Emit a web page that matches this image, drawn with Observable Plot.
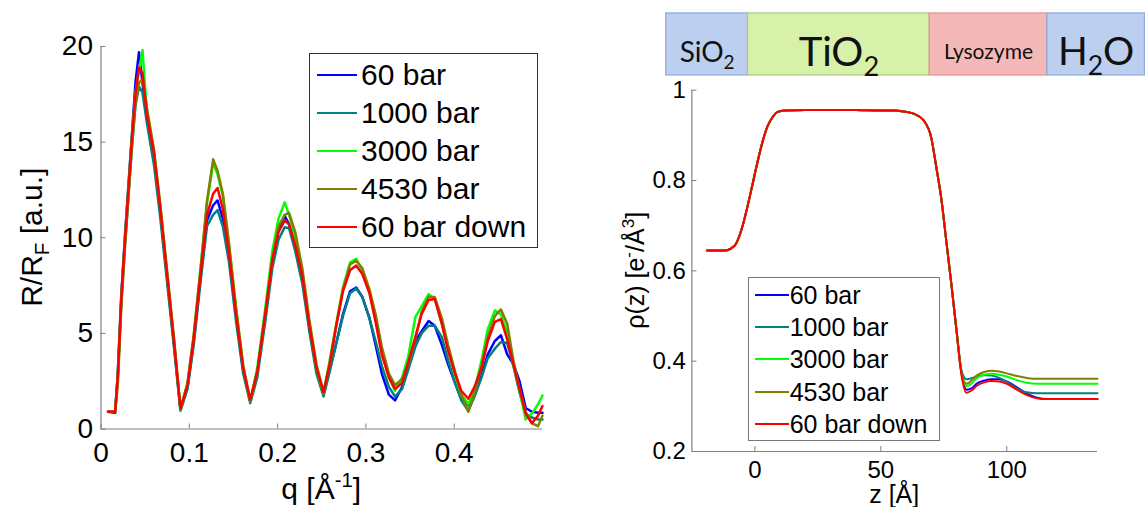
<!DOCTYPE html>
<html>
<head>
<meta charset="utf-8">
<script src="https://cdn.jsdelivr.net/npm/d3@7"></script>
<script src="https://cdn.jsdelivr.net/npm/@observablehq/plot@0.6"></script>
<style>
  body { margin: 0; background: #fff; }
  #fig { position: relative; width: 1145px; height: 507px; overflow: hidden; background: #fff;
         font-family: "Liberation Sans", Arial, sans-serif; color: #000; }
  #fig > svg { position: absolute; top: 0; }
  .legend { position: absolute; background: #fff; box-sizing: border-box; }
  .legend .row { position: absolute; left: 0; display: flex; align-items: center; white-space: nowrap; }
  .legend .sw { display: inline-block; height: 0; }
</style>
</head>
<body>
<div id="fig"></div>
<script>
// Pressure series shared by both panels
const seriesNames  = ["60 bar", "1000 bar", "3000 bar", "4530 bar", "60 bar down"];
const seriesColors = ["#0000ff", "#008080", "#00ff00", "#808000", "#ff0000"];

// Left panel: normalised reflectivity R/R_F versus q [1/Å]
const qValues = [0.008, 0.016, 0.019, 0.023, 0.027, 0.031, 0.035, 0.039, 0.043, 0.047,
  0.052, 0.060, 0.067, 0.075, 0.083, 0.090, 0.098, 0.105, 0.113, 0.120,
  0.127, 0.132, 0.138, 0.145, 0.153, 0.161, 0.169, 0.177, 0.186, 0.194,
  0.201, 0.208, 0.213, 0.220, 0.228, 0.236, 0.244, 0.252, 0.259, 0.266,
  0.274, 0.282, 0.289, 0.296, 0.304, 0.311, 0.318, 0.326, 0.333, 0.341,
  0.348, 0.356, 0.363, 0.371, 0.378, 0.386, 0.393, 0.401, 0.408, 0.416,
  0.423, 0.431, 0.438, 0.446, 0.453, 0.460, 0.467, 0.474, 0.481, 0.488,
  0.495, 0.500];
const refl60 = [0.9, 0.85, 2.9, 7.0, 10.0, 12.7, 15.4, 18.1, 19.7, 18.1,
  16.2, 14.2, 11.4, 7.9, 4.3, 1.0, 2.2, 4.6, 8.1, 10.9,
  11.7, 11.95, 11.0, 9.0, 5.9, 3.1, 1.45, 2.9, 5.9, 8.7,
  10.4, 11.15, 10.7, 9.5, 7.9, 5.3, 3.1, 1.85, 3.1, 4.4,
  6.0, 7.2, 7.4, 6.9, 5.8, 4.4, 2.9, 1.8, 1.5, 2.2,
  3.2, 4.6, 5.1, 5.65, 5.4, 4.4, 3.4, 2.4, 1.6, 1.25,
  1.8, 2.8, 3.9, 4.6, 4.9, 3.9, 3.4, 2.5, 1.1, 0.9,
  0.85, 0.85];
const refl1000 = [0.9, 0.9, 2.6, 6.6, 9.5, 12.1, 14.7, 16.9, 17.9, 17.6,
  16.0, 13.8, 11.1, 7.6, 4.1, 0.95, 2.1, 4.4, 7.8, 10.6,
  11.2, 11.45, 10.6, 8.7, 5.6, 2.9, 1.35, 2.7, 5.6, 8.4,
  9.9, 10.55, 10.5, 9.3, 7.6, 5.1, 2.9, 1.7, 3.0, 4.4,
  5.9, 7.1, 7.35, 6.9, 5.8, 4.6, 3.3, 2.2, 1.7, 2.1,
  3.1, 4.3, 5.0, 5.4, 5.4, 4.8, 3.6, 2.4, 1.5, 0.95,
  1.7, 2.7, 3.7, 4.2, 4.55, 4.5, 3.3, 1.9, 0.8, 0.6,
  0.5, 0.5];
const refl3000 = [0.9, 0.9, 2.8, 6.9, 9.9, 12.6, 15.3, 17.6, 18.7, 19.8,
  16.6, 14.5, 11.7, 8.1, 4.5, 1.0, 2.4, 4.9, 8.5, 11.8,
  13.9, 13.3, 12.2, 9.6, 6.3, 3.3, 1.45, 3.2, 6.3, 9.3,
  11.0, 11.85, 11.2, 10.0, 8.2, 5.5, 3.2, 1.85, 3.6, 5.4,
  7.4, 8.7, 8.9, 8.3, 7.2, 5.8, 4.1, 2.7, 2.0, 2.7,
  3.8, 5.85, 6.4, 7.05, 6.8, 5.5, 4.2, 2.8, 1.8, 1.3,
  2.0, 3.6, 5.2, 6.2, 6.0, 5.0, 3.4, 2.0, 0.5, 0.8,
  1.3, 1.75];
const refl4530 = [0.9, 0.9, 2.3, 6.4, 9.4, 12.1, 14.8, 17.0, 18.1, 18.3,
  16.8, 14.6, 11.8, 8.2, 4.6, 1.05, 2.4, 4.9, 8.5, 11.9,
  14.1, 13.5, 12.3, 9.7, 6.3, 3.3, 1.5, 3.0, 6.0, 8.9,
  10.6, 11.2, 11.3, 10.3, 8.4, 5.7, 3.4, 1.95, 3.4, 5.3,
  7.3, 8.6, 8.8, 8.4, 7.3, 6.0, 4.3, 2.9, 2.3, 2.6,
  3.4, 4.7, 6.1, 6.9, 6.9, 5.8, 4.4, 3.0, 1.8, 0.9,
  1.9, 3.3, 4.8, 5.9, 6.25, 5.5, 3.6, 2.1, 0.9, 0.3,
  0.15, 0.7];
const refl60down = [0.9, 0.9, 2.8, 6.9, 9.8, 12.5, 15.2, 17.5, 18.9, 18.6,
  16.4, 14.4, 11.6, 8.0, 4.4, 1.05, 2.3, 4.7, 8.2, 11.2,
  12.3, 12.6, 11.5, 9.2, 6.0, 3.2, 1.5, 3.0, 6.0, 8.8,
  10.3, 10.9, 10.7, 9.6, 8.0, 5.4, 3.2, 1.9, 3.4, 5.3,
  7.2, 8.3, 8.55, 8.1, 7.1, 5.6, 3.9, 2.7, 2.1, 2.4,
  3.5, 4.8, 6.0, 6.75, 6.8, 5.5, 4.1, 2.9, 2.0, 1.58,
  2.2, 3.2, 4.6, 5.6, 5.75, 4.7, 3.4, 2.1, 0.8, 0.3,
  0.7, 1.2];
const qTicks = [0, 0.1, 0.2, 0.3, 0.4];
const reflTicks = [0, 5, 10, 15, 20];

// Right panel: electron density profile rho(z) versus z [Å]
const zValues = [-19, -12, -8, -5, -3, -1, 1, 3, 5, 7,
  9, 12, 20, 30, 40, 50, 55, 59, 63, 67,
  70, 72, 74, 76, 78, 80, 82, 84, 86, 88,
  91, 94, 97, 100, 104, 108, 112, 116, 120, 128, 136];
const rho60 = [0.645, 0.645, 0.656, 0.697, 0.741, 0.79, 0.84, 0.885, 0.92, 0.94,
  0.952, 0.955, 0.956, 0.956, 0.956, 0.955, 0.955, 0.953, 0.948, 0.933,
  0.895, 0.83, 0.76, 0.665, 0.57, 0.47, 0.375, 0.337, 0.34, 0.35,
  0.357, 0.36, 0.36, 0.355, 0.342, 0.328, 0.319, 0.316, 0.316, 0.316, 0.316];
const rho1000 = [0.645, 0.645, 0.656, 0.697, 0.741, 0.79, 0.84, 0.885, 0.92, 0.94,
  0.952, 0.955, 0.956, 0.956, 0.956, 0.955, 0.955, 0.953, 0.948, 0.933,
  0.895, 0.83, 0.76, 0.665, 0.57, 0.47, 0.38, 0.36, 0.362, 0.366,
  0.369, 0.368, 0.363, 0.354, 0.34, 0.331, 0.329, 0.329, 0.329, 0.329, 0.329];
const rho3000 = [0.645, 0.645, 0.656, 0.697, 0.741, 0.79, 0.84, 0.885, 0.92, 0.94,
  0.952, 0.955, 0.956, 0.956, 0.956, 0.955, 0.955, 0.953, 0.948, 0.933,
  0.895, 0.83, 0.76, 0.665, 0.57, 0.47, 0.375, 0.345, 0.35, 0.362,
  0.37, 0.372, 0.37, 0.366, 0.358, 0.352, 0.35, 0.35, 0.35, 0.35, 0.35];
const rho4530 = [0.645, 0.645, 0.656, 0.697, 0.741, 0.79, 0.84, 0.885, 0.92, 0.94,
  0.952, 0.955, 0.956, 0.956, 0.956, 0.955, 0.955, 0.953, 0.948, 0.933,
  0.895, 0.83, 0.76, 0.665, 0.57, 0.47, 0.375, 0.35, 0.357, 0.368,
  0.376, 0.379, 0.377, 0.373, 0.367, 0.363, 0.361, 0.361, 0.361, 0.361, 0.361];
const rho60down = [0.645, 0.645, 0.656, 0.697, 0.741, 0.79, 0.84, 0.885, 0.92, 0.94,
  0.952, 0.955, 0.956, 0.956, 0.956, 0.955, 0.955, 0.953, 0.948, 0.933,
  0.895, 0.83, 0.76, 0.665, 0.57, 0.47, 0.37, 0.33, 0.335, 0.345,
  0.353, 0.356, 0.355, 0.35, 0.337, 0.325, 0.318, 0.316, 0.316, 0.316, 0.316];
const zTicks = [0, 50, 100];
const rhoTicks = [0.2, 0.4, 0.6, 0.8, 1];

// Layer sketch above the density profile (edges in Å along z)
const layerNames = ["SiO2", "TiO2", "Lysozyme", "H2O"];
const layerEdges = [-35.2, -2.7, 69.4, 116.1, 154.8];

// ---- styling ----
const axisGray = "#808080";
const layerFill   = {SiO2: "#bccfee", TiO2: "#d7f0aa", Lysozyme: "#f5b8b8", H2O: "#bccfee"};
const layerStroke = {SiO2: "#8ea9dc", TiO2: "#aecb7c", Lysozyme: "#df9393", H2O: "#8ea9dc"};
const layerFont   = {SiO2: 28, TiO2: 40, Lysozyme: 21, H2O: 39};

const reflSeries = [refl60, refl1000, refl3000, refl4530, refl60down];
const rhoSeries  = [rho60, rho1000, rho3000, rho4530, rho60down];
const reflData = seriesNames.flatMap((s, i) => qValues.map((q, j) => ({series: s, q, r: reflSeries[i][j]})));
const rhoData  = seriesNames.flatMap((s, i) => zValues.map((z, j) => ({series: s, z, rho: rhoSeries[i][j]})));
const layers = layerNames.map((name, i) => ({name, from: layerEdges[i], to: layerEdges[i + 1]}));

const fig = document.getElementById("fig");

// rich SVG text with sub/superscripts
function richText(textSel, parts, fs) {
  let shift = 0;
  for (const p of parts) {
    const target = p.sub ? fs * 0.25 : p.sup ? -fs * 0.4 : 0;
    const ts = textSel.append("tspan").text(p.t);
    if (target !== shift) { ts.attr("dy", target - shift); shift = target; }
    if (p.sub || p.sup) ts.attr("font-size", fs * 0.68);
  }
}

// ---------- left panel ----------
const L = {w: 560, h: 507, ml: 100.5, mr: 18, mt: 46, mb: 78.5};
const LpW = L.w - L.ml - L.mr, LpH = L.h - L.mt - L.mb;
const left = Plot.plot({
  width: L.w, height: L.h,
  marginLeft: L.ml, marginRight: L.mr, marginTop: L.mt, marginBottom: L.mb,
  x: {domain: [0, 0.5]},
  y: {domain: [0, 20]},
  color: {domain: seriesNames, range: seriesColors},
  style: {fontFamily: "Liberation Sans, Arial, sans-serif", fontSize: "28px", color: "#000", background: "#fff"},
  marks: [
    Plot.axisX({ticks: qTicks, tickSize: 0, tickPadding: 13, tickFormat: d => String(d), label: null, fill: "#000"}),
    Plot.axisY({ticks: reflTicks, tickSize: 0, tickPadding: 8, tickFormat: d => String(d), label: null, fill: "#000"}),
    Plot.ruleY(reflTicks, {y: d => d, stroke: axisGray, insetRight: LpW - 5}),
    Plot.ruleX(qTicks, {x: d => d, stroke: axisGray, insetTop: LpH - 5}),
    Plot.ruleX([0], {stroke: axisGray, strokeWidth: 1.2}),
    Plot.ruleY([0], {stroke: axisGray, strokeWidth: 1.2}),
    Plot.line(reflData, {x: "q", y: "r", z: "series", stroke: "series", strokeWidth: 2.5, strokeLinejoin: "round"})
  ]
});
left.style.left = "0px";
fig.appendChild(left);
{
  const svg = d3.select(left);
  richText(svg.append("text").attr("transform", `translate(31,${L.mt + LpH / 2}) rotate(-90)`)
      .attr("text-anchor", "middle").attr("dy", "0.35em").attr("font-size", 30)
      .attr("font-family", "Liberation Sans, Arial, sans-serif"),
    [{t: "R/R"}, {t: "F", sub: true}, {t: " [a.u.]"}], 30);
  richText(svg.append("text").attr("x", L.ml + LpW / 2).attr("y", 499)
      .attr("text-anchor", "middle").attr("font-size", 30)
      .attr("font-family", "Liberation Sans, Arial, sans-serif"),
    [{t: "q [Å"}, {t: "-1", sup: true}, {t: "]"}], 30);
}

// ---------- right panel ----------
const R = {x0: 580, w: 565, h: 507, ml: 111.4, mr: 48, mt: 89.7, mb: 56};
const RpW = R.w - R.ml - R.mr, RpH = R.h - R.mt - R.mb;
const bandLow = 1.0326, bandHigh = 1.170, bandText = 1.083;
const right = Plot.plot({
  width: R.w, height: R.h,
  marginLeft: R.ml, marginRight: R.mr, marginTop: R.mt, marginBottom: R.mb,
  x: {domain: [-25, 136]},
  y: {domain: [0.2, 1]},
  color: {domain: seriesNames, range: seriesColors},
  style: {fontFamily: "Liberation Sans, Arial, sans-serif", fontSize: "24px", color: "#000", background: "#fff"},
  marks: [
    ...layers.map(l => Plot.rect([l], {x1: "from", x2: "to", y1: () => bandLow, y2: () => bandHigh,
      fill: layerFill[l.name], stroke: layerStroke[l.name], strokeWidth: 1.2})),
    Plot.text(layers, {x: d => (d.from + d.to) / 2, y: () => bandText, text: "name",
      fontSize: d => layerFont[d.name], fontFamily: "Lato, 'Open Sans', sans-serif", fill: "#111"}),
    Plot.axisX({ticks: zTicks, tickSize: 0, tickPadding: 9, tickFormat: d => String(d), label: null, fill: "#000"}),
    Plot.axisY({ticks: rhoTicks, tickSize: 0, tickPadding: 6, tickFormat: d => String(d), label: null, fill: "#000"}),
    Plot.ruleY(rhoTicks, {y: d => d, stroke: axisGray, insetRight: RpW - 5}),
    Plot.ruleX(zTicks, {x: d => d, stroke: axisGray, insetTop: RpH - 5}),
    Plot.ruleX([-25], {stroke: axisGray, strokeWidth: 1.2}),
    Plot.ruleY([0.2], {stroke: axisGray, strokeWidth: 1.2}),
    Plot.line(rhoData, {x: "z", y: "rho", z: "series", stroke: "series", strokeWidth: 2, curve: "monotone-x"})
  ]
});
right.style.left = R.x0 + "px";
fig.appendChild(right);
{
  const svg = d3.select(right);
  // subscript digits in the chemical formulas of the layer sketch
  svg.selectAll("text").each(function () {
    const s = this.textContent;
    if (!layerNames.includes(s)) return;
    const fs = layerFont[s];
    const parts = s.split(/(\d)/).filter(t => t !== "").map(t => (/\d/.test(t) ? {t, sub: true} : {t}));
    while (this.firstChild) this.removeChild(this.firstChild);
    richText(d3.select(this), parts, fs);
  });
  richText(svg.append("text").attr("transform", `translate(55,${R.mt + RpH / 2}) rotate(-90)`)
      .attr("text-anchor", "middle").attr("dy", "0.35em").attr("font-size", 25)
      .attr("font-family", "Liberation Sans, Arial, sans-serif"),
    [{t: "ρ(z) [e"}, {t: "-", sup: true}, {t: "/Å"}, {t: "3", sup: true}, {t: "]"}], 25);
  svg.append("text").attr("x", R.ml + RpW / 2).attr("y", 503)
    .attr("text-anchor", "middle").attr("font-size", 25)
    .attr("font-family", "Liberation Sans, Arial, sans-serif").text("z [Å]");
}

// ---------- legends ----------
function addLegend({left, top, width, height, rowTop, rowStep, swLeft, swWidth, textLeft, fontSize, border, lineW}) {
  const box = document.createElement("div");
  box.className = "legend";
  Object.assign(box.style, {left: left + "px", top: top + "px", width: width + "px", height: height + "px",
    border: `1px solid ${border}`});
  seriesNames.forEach((name, i) => {
    const row = document.createElement("div");
    row.className = "row";
    Object.assign(row.style, {top: (rowTop + i * rowStep - fontSize * 0.6) + "px", height: (fontSize * 1.2) + "px",
      fontSize: fontSize + "px", lineHeight: (fontSize * 1.2) + "px"});
    const sw = document.createElement("span");
    sw.className = "sw";
    Object.assign(sw.style, {marginLeft: swLeft + "px", width: swWidth + "px", borderTop: `${lineW}px solid ${seriesColors[i]}`});
    const tx = document.createElement("span");
    tx.textContent = name;
    tx.style.marginLeft = (textLeft - swLeft - swWidth) + "px";
    row.appendChild(sw); row.appendChild(tx);
    box.appendChild(row);
  });
  fig.appendChild(box);
}
addLegend({left: 309, top: 53, width: 229, height: 195, rowTop: 21, rowStep: 37.9,
  swLeft: 7, swWidth: 40, textLeft: 51, fontSize: 30, border: "#333", lineW: 2});
addLegend({left: 747.7, top: 277.3, width: 192, height: 164, rowTop: 17, rowStep: 32.1,
  swLeft: 6, swWidth: 34, textLeft: 41, fontSize: 25, border: "#777", lineW: 2});
</script>
</body>
</html>
